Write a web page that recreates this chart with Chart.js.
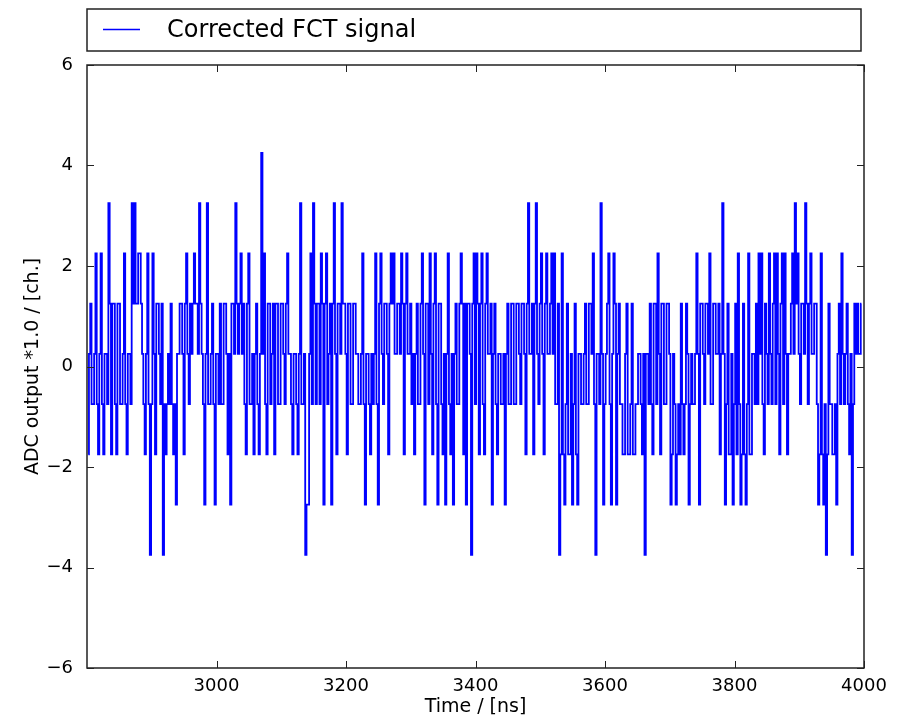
<!DOCTYPE html>
<html>
  <head>
    <title>Corrected FCT signal</title>
    <style>
      body { margin: 0; background: #fff; }
      #wrap { width: 899px; height: 720px; }
    </style>
  </head>
  <body>
    <div id="wrap"><canvas id="fctChart"></canvas></div>

    <script src="https://cdn.jsdelivr.net/npm/chart.js"></script>
    <script>
      // sampling of the trace (ns)
      const startTime = 2802;
      const stepTime = 2;

      // ADC values, five chunks of ~240 ns each
      const seg1 = [
        -1.75, 0.25, 1.25, -0.75, -0.75, 0.25, 2.25, -0.75, -1.75, 0.25,
        2.25, -0.75, -1.75, 0.25, 0.25, -0.75, 3.25, 1.25, -1.75, 1.25,
        1.25, -0.75, -1.75, 1.25, 1.25, -0.75, -0.75, 0.25, 2.25, -0.75,
        -1.75, 0.25, 0.25, -0.75, 3.25, 1.25, 3.25, 1.25, 1.25, 2.25,
        2.25, 1.25, 0.25, -0.75, -1.75, 0.25, 2.25, -0.75, -3.75, -0.75,
        2.25, 0.25, -1.75, 1.25, 1.25, 0.25, -0.75, 1.25, -3.75, -0.75,
        -1.75, -0.75, 0.25, -0.75, 1.25, -0.75, -1.75, -0.75, -2.75, 0.25,
        0.25, 1.25, 1.25, 0.25, -1.75, 1.25, 2.25, 0.25, -0.75, 1.25,
        0.25, 1.25, 2.25, 1.25, 1.25, 0.25, 3.25, 1.25, 0.25, -0.75,
        -2.75, 0.25, 3.25, -0.75, -0.75, 0.25, 1.25, -0.75, -2.75, 0.25,
        0.25, -0.75, 1.25, -0.75, -0.75, 1.25, 1.25, 0.25, -1.75, 0.25,
        -2.75, 1.25, 1.25, 0.25, 3.25, 1.25, 0.25, 1.25, 2.25, 0.25];
      const seg2 = [
        1.25, -0.75, -1.75, 1.25, 2.25, -0.75, -0.75, 0.25, -1.75, 0.25,
        1.25, -0.75, -1.75, 0.25, 4.25, 0.25, 2.25, -0.75, -1.75, 1.25,
        1.25, -0.75, 0.25, 1.25, -1.75, 1.25, 1.25, -0.75, -0.75, 1.25,
        1.25, 0.25, -0.75, 1.25, 2.25, 0.25, 0.25, -0.75, -1.75, 0.25,
        0.25, -0.75, -1.75, 0.25, 3.25, -0.75, -0.75, 0.25, -3.75, -2.75,
        -2.75, 0.25, 2.25, -0.75, 3.25, 1.25, -0.75, 1.25, 1.25, -0.75,
        2.25, 1.25, -2.75, 1.25, 2.25, -0.75, 0.25, 1.25, -2.75, 1.25,
        3.25, 0.25, -1.75, 1.25, 1.25, 0.25, 3.25, 1.25, 1.25, 0.25,
        -1.75, 1.25, 1.25, -0.75, -0.75, 1.25, 1.25, 0.25, 0.25, -0.75,
        -0.75, 0.25, 2.25, -0.75, -2.75, 0.25, 0.25, -0.75, -1.75, 0.25,
        -0.75, 0.25, 2.25, -0.75, -2.75, 1.25, 2.25, 0.25, -0.75, 1.25,
        1.25, 0.25, -1.75, 1.25, 2.25, 1.25, 2.25, 0.25, 0.25, 1.25];
      const seg3 = [
        1.25, 0.25, 2.25, 1.25, -1.75, 1.25, 2.25, 0.25, 0.25, 1.25,
        -0.75, 0.25, -1.75, 0.25, 1.25, -0.75, -0.75, 1.25, 2.25, 0.25,
        -2.75, 1.25, 1.25, -0.75, 2.25, 0.25, -1.75, 1.25, 2.25, -0.75,
        -2.75, 1.25, 1.25, -0.75, -1.75, 0.25, -2.75, 0.25, 2.25, -0.75,
        -1.75, 0.25, -2.75, 0.25, 1.25, -0.75, -0.75, 1.25, 2.25, 1.25,
        -1.75, 1.25, -2.75, 1.25, 1.25, 0.25, -3.75, 1.25, 2.25, -0.75,
        2.25, 1.25, -1.75, 1.25, 2.25, -0.75, -1.75, 1.25, 2.25, 0.25,
        0.25, 1.25, -2.75, 0.25, 1.25, -0.75, -1.75, 0.25, 0.25, -0.75,
        -0.75, 0.25, -2.75, 0.25, 1.25, -0.75, -0.75, 1.25, 1.25, -0.75,
        -0.75, 1.25, 1.25, 0.25, -0.75, 1.25, 1.25, 0.25, -1.75, 1.25,
        3.25, 0.25, 0.25, 1.25, -1.75, 1.25, 3.25, 0.25, -0.75, 1.25,
        2.25, 0.25, -1.75, 1.25, 2.25, 0.25, 0.25, 1.25, 2.25, 0.25];
      const seg4 = [
        2.25, -0.75, -0.75, 1.25, -3.75, -1.75, 2.25, -1.75, -2.75, -0.75,
        1.25, -1.75, -1.75, 0.25, -2.75, -0.75, 1.25, -1.75, -2.75, 0.25,
        0.25, -0.75, -0.75, 0.25, 1.25, -0.75, -0.75, 1.25, 1.25, 0.25,
        2.25, -0.75, -3.75, 0.25, 0.25, -0.75, 3.25, 0.25, -2.75, -0.75,
        0.25, 1.25, 2.25, -0.75, -2.75, 0.25, 2.25, 1.25, -2.75, 0.25,
        1.25, -0.75, -0.75, -1.75, -1.75, 0.25, 1.25, -1.75, -1.75, -0.75,
        1.25, -1.75, -1.75, -0.75, -0.75, 0.25, 0.25, -0.75, -1.75, 0.25,
        -3.75, 0.25, 0.25, -0.75, 1.25, -0.75, -1.75, 1.25, 1.25, -0.75,
        2.25, 0.25, -1.75, 1.25, 1.25, -0.75, -0.75, 1.25, 1.25, 0.25,
        -2.75, -1.75, 0.25, -0.75, -2.75, -1.75, -0.75, -1.75, 1.25, -0.75,
        -1.75, -0.75, 1.25, 0.25, -2.75, -0.75, 0.25, -0.75, -0.75, 0.25,
        2.25, 0.25, -2.75, 1.25, 1.25, 0.25, -0.75, 1.25, 1.25, 0.25];
      const seg5 = [
        2.25, -0.75, -0.75, 1.25, 1.25, 0.25, 0.25, 1.25, -1.75, 0.25,
        3.25, 0.25, -2.75, -0.75, 1.25, -1.75, -1.75, 0.25, -2.75, -0.75,
        1.25, -1.75, 2.25, -0.75, -2.75, -1.75, 1.25, -1.75, -2.75, -0.75,
        2.25, -1.75, -1.75, 0.25, 0.25, -0.75, 1.25, -0.75, 2.25, 0.25,
        2.25, -0.75, -1.75, 1.25, 0.25, -0.75, 2.25, 0.25, -0.75, 1.25,
        2.25, -0.75, 2.25, 0.25, -1.75, 1.25, 2.25, -0.75, 2.25, 0.25,
        -1.75, 0.25, 0.25, 1.25, 2.25, 0.25, 3.25, 1.25, 2.25, 0.25,
        -0.75, 1.25, 1.25, 0.25, 3.25, 1.25, -0.75, 1.25, 2.25, 0.25,
        0.25, 1.25, 1.25, -0.75, -2.75, -1.75, 2.25, -1.75, -2.75, -0.75,
        -3.75, -1.75, 1.25, -0.75, -0.75, -1.75, -1.75, -0.75, -2.75, 0.25,
        1.25, -0.75, 2.25, 0.25, -0.75, 0.25, 1.25, -0.75, -1.75, 0.25,
        -3.75, -0.75, 1.25, 0.25, 1.25, 0.25, 0.25, 1.25];

      const xTicks = [3000, 3200, 3400, 3600, 3800, 4000];
      const yTicks = [-6, -4, -2, 0, 2, 4, 6];
      const seriesLabel = "Corrected FCT signal";

      const values = seg1.concat(seg2, seg3, seg4, seg5);
      const points = values.map((v, i) => ({ x: startTime + i * stepTime, y: v }));

      const fontName = "'DejaVu Sans', sans-serif";

      // matplotlib-like frame, inward ticks and boxed legend
      const framePlugin = {
        id: "frame",
        afterDraw(chart) {
          const { ctx, chartArea: a } = chart;
          const xs = chart.scales.x;
          const ys = chart.scales.y;
          ctx.save();
          ctx.strokeStyle = "#222";
          ctx.lineWidth = 1.5;
          ctx.strokeRect(a.left, a.top, a.right - a.left, a.bottom - a.top);

          ctx.lineWidth = 1;
          ctx.beginPath();
          xTicks.forEach((v) => {
            const px = Math.round(xs.getPixelForValue(v)) + 0.5;
            ctx.moveTo(px, a.bottom);
            ctx.lineTo(px, a.bottom - 7);
            ctx.moveTo(px, a.top);
            ctx.lineTo(px, a.top + 7);
          });
          yTicks.forEach((v) => {
            const py = Math.round(ys.getPixelForValue(v)) + 0.5;
            ctx.moveTo(a.left, py);
            ctx.lineTo(a.left + 7, py);
            ctx.moveTo(a.right, py);
            ctx.lineTo(a.right - 7, py);
          });
          ctx.stroke();

          // legend box
          ctx.lineWidth = 1.5;
          ctx.strokeStyle = "#222";
          ctx.strokeRect(87, 9, 774, 42);
          ctx.strokeStyle = "#0000ff";
          ctx.lineWidth = 1.5;
          ctx.beginPath();
          ctx.moveTo(103, 29.5);
          ctx.lineTo(140, 29.5);
          ctx.stroke();
          ctx.fillStyle = "#000";
          ctx.font = "24px " + fontName;
          ctx.textBaseline = "middle";
          ctx.textAlign = "left";
          ctx.fillText(seriesLabel, 167, 31);
          ctx.restore();
        },
      };

      new Chart(document.getElementById("fctChart"), {
        type: "line",
        data: {
          datasets: [
            {
              label: seriesLabel,
              data: points,
              borderColor: "#0000ff",
              borderWidth: 1.8,
              stepped: "middle",
              pointRadius: 0,
              fill: false,
            },
          ],
        },
        options: {
          responsive: true,
          maintainAspectRatio: false,
          animation: false,
          layout: { padding: { left: 0, right: 35, top: 65, bottom: 0 } },
          plugins: {
            legend: { display: false },
            tooltip: { enabled: false },
          },
          scales: {
            x: {
              type: "linear",
              min: 2800,
              max: 4000,
              afterBuildTicks: (scale) => {
                scale.ticks = xTicks.map((v) => ({ value: v }));
              },
              afterFit: (scale) => {
                scale.height = 52;
              },
              grid: { display: false },
              border: { display: false },
              ticks: {
                color: "#000",
                font: { family: fontName, size: 18 },
                padding: 0,
                maxRotation: 0,
                callback: (v) => String(v),
              },
              title: {
                display: true,
                text: "Time / [ns]",
                color: "#000",
                font: { family: fontName, size: 19 },
                padding: { top: 0, bottom: 2 },
              },
            },
            y: {
              min: -6,
              max: 6,
              afterBuildTicks: (scale) => {
                scale.ticks = yTicks.map((v) => ({ value: v }));
              },
              afterFit: (scale) => {
                scale.width = 87;
              },
              grid: { display: false },
              border: { display: false },
              ticks: {
                color: "#000",
                font: { family: fontName, size: 18 },
                padding: 6,
                callback: (v) => (v < 0 ? "\u2212" + Math.abs(v) : String(v)),
              },
              title: {
                display: true,
                text: "ADC output *1.0 / [ch.]",
                color: "#000",
                font: { family: fontName, size: 19 },
                padding: { top: 22, bottom: 0 },
              },
            },
          },
        },
        plugins: [framePlugin],
      });
    </script>
  </body>
</html>
